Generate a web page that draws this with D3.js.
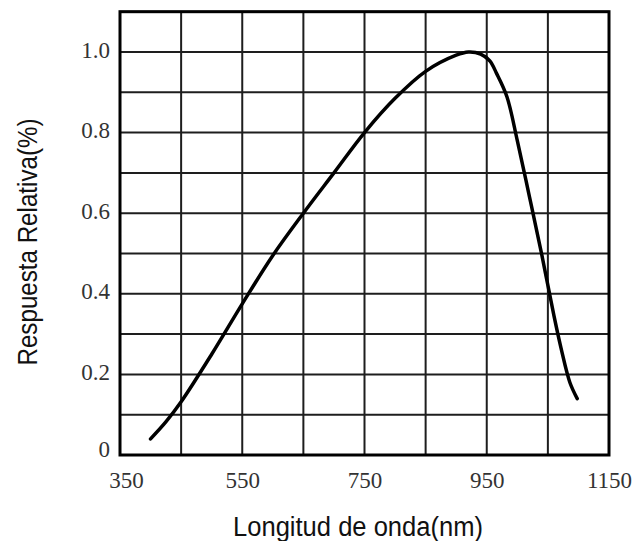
<!DOCTYPE html>
<html>
<head>
<meta charset="utf-8">
<script src="https://cdn.jsdelivr.net/npm/d3@7"></script>
<style>
html,body{margin:0;padding:0;background:#fff;}
svg{display:block;}
</style>
</head>
<body>
<svg id="chart" width="636" height="541"></svg>
<script>
// Data
const wavelength = [400, 425, 450, 500, 550, 600, 650, 700, 750, 800, 850, 900, 920, 940, 955, 966, 983, 1000, 1020, 1040, 1060, 1072, 1086, 1098];
const response   = [0.04, 0.082, 0.132, 0.25, 0.375, 0.495, 0.60, 0.70, 0.80, 0.885, 0.952, 0.992, 1.00, 0.995, 0.978, 0.947, 0.889, 0.78, 0.64, 0.497, 0.345, 0.262, 0.18, 0.14];
const xTickLabels = [350, 550, 750, 950, 1150];
const yTickLabels = [0, 0.2, 0.4, 0.6, 0.8, 1.0];
const xGrid = [350, 450, 550, 650, 750, 850, 950, 1050, 1150];
const yGrid = [0, 0.1, 0.2, 0.3, 0.4, 0.5, 0.6, 0.7, 0.8, 0.9, 1.0, 1.1];
const xTitle = "Longitud de onda(nm)";
const yTitle = "Respuesta Relativa(%)";

const svg = d3.select("#chart");
const plotLeft = 120, plotRight = 609, plotTop = 11.7, plotBottom = 455;

const x = d3.scaleLinear().domain([350, 1150]).range([plotLeft, plotRight]);
const y = d3.scaleLinear().domain([0, 1.1]).range([plotBottom, plotTop]);

const g = svg.append("g");

// grid
g.selectAll("line.v").data(xGrid).enter().append("line")
  .attr("x1", d => x(d)).attr("x2", d => x(d))
  .attr("y1", y(0)).attr("y2", y(1.1))
  .attr("stroke", "#1e1e1e").attr("stroke-width", 2);
g.selectAll("line.h").data(yGrid).enter().append("line")
  .attr("y1", d => y(d)).attr("y2", d => y(d))
  .attr("x1", x(350)).attr("x2", x(1150))
  .attr("stroke", "#1e1e1e").attr("stroke-width", 2);

// border
g.append("rect")
  .attr("x", x(350)).attr("y", y(1.1))
  .attr("width", x(1150) - x(350)).attr("height", y(0) - y(1.1))
  .attr("fill", "none").attr("stroke", "#000").attr("stroke-width", 3);

// axes labels via d3 axes (no lines)
const xAxis = d3.axisBottom(x).tickValues(xTickLabels).tickSize(0).tickPadding(0).tickFormat(d3.format("d"));
const xa = svg.append("g").attr("transform", `translate(0,${plotBottom})`).call(xAxis);
xa.select(".domain").remove();
xa.selectAll("text")
  .attr("font-family", "'Liberation Serif', 'Times New Roman', serif")
  .attr("font-size", 23).attr("fill", "#333")
  .attr("dy", 0).attr("y", 33)
  .attr("dx", d => d === 350 ? 6 : 0);

const yAxis = d3.axisLeft(y).tickValues(yTickLabels).tickSize(0).tickPadding(0)
  .tickFormat(d => d === 0 ? "0" : d3.format(".1f")(d));
const ya = svg.append("g").attr("transform", `translate(110,0)`).call(yAxis);
ya.select(".domain").remove();
ya.selectAll("text")
  .attr("font-family", "'Liberation Serif', 'Times New Roman', serif")
  .attr("font-size", 23).attr("fill", "#333")
  .attr("x", 0).attr("dy", d => d === 0 ? "0.05em" : "0.22em");

// curve
const pts = wavelength.map((w, i) => [w, response[i]]);
const line = d3.line().x(d => x(d[0])).y(d => y(d[1])).curve(d3.curveCatmullRom.alpha(0.5));
svg.append("path").attr("d", line(pts))
  .attr("fill", "none").attr("stroke", "#000").attr("stroke-width", 3.5)
  .attr("stroke-linecap", "round").attr("stroke-linejoin", "round");

// titles
svg.append("text")
  .attr("x", 358).attr("y", 536)
  .attr("text-anchor", "middle")
  .attr("font-family", "'Liberation Sans', Arial, sans-serif")
  .attr("font-size", 27).attr("fill", "#111")
  .attr("textLength", 250).attr("lengthAdjust", "spacingAndGlyphs")
  .text(xTitle);

svg.append("text")
  .attr("transform", "translate(37,242) rotate(-90)")
  .attr("text-anchor", "middle")
  .attr("font-family", "'Liberation Sans', Arial, sans-serif")
  .attr("font-size", 27).attr("fill", "#111")
  .attr("textLength", 247).attr("lengthAdjust", "spacingAndGlyphs")
  .text(yTitle);
</script>
</body>
</html>
